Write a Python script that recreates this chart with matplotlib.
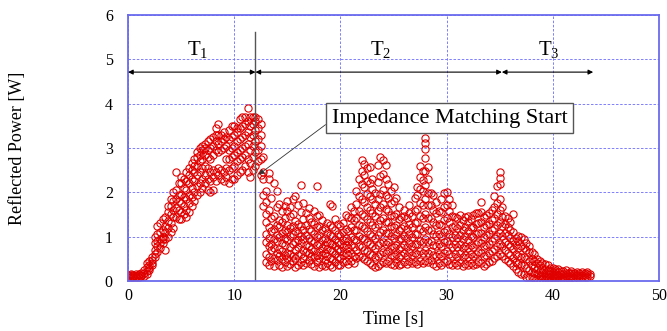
import matplotlib
matplotlib.use("Agg")
import matplotlib.pyplot as plt
import numpy as np

plt.rcParams["font.family"] = ["Liberation Serif", "DejaVu Serif"]
plt.rcParams["mathtext.fontset"] = "custom"
plt.rcParams["mathtext.rm"] = "Liberation Serif"

# reflected power readings, one group every 0.25 s starting at t = 0 s
t_step = 0.25
power_bins = [
    # 0 s
    [0.10, 0.12, 0.14], [0.10, 0.13, 0.15], [0.09, 0.12, 0.14], [0.10, 0.12, 0.15],
    # 1 s
    [0.10, 0.13, 0.15], [0.11, 0.14, 0.17], [0.12, 0.18, 0.25], [0.15, 0.22, 0.32, 0.40],
    # 2 s
    [0.25, 0.35, 0.45, 0.30], [0.35, 0.48, 0.40, 0.55], [0.55, 0.70, 0.85, 1.00, 0.62], [0.65, 0.90, 1.05, 1.25, 0.80],
    # 3 s
    [0.75, 0.95, 1.10, 1.30, 0.85], [0.85, 1.00, 1.15, 1.40, 0.95], [0.70, 0.95, 1.10, 1.25, 1.45], [1.00, 1.20, 1.35, 1.55, 1.70],
    # 4 s
    [1.10, 1.30, 1.50, 1.70, 1.85], [1.20, 1.45, 1.60, 1.80, 2.00], [1.45, 1.65, 1.85, 2.05, 2.45], [1.40, 1.60, 1.80, 1.95, 2.20],
    # 5 s
    [1.40, 1.55, 1.75, 1.95, 2.20, 2.35], [1.50, 1.70, 1.90, 2.10, 2.30], [1.45, 1.60, 1.85, 2.05, 2.25, 2.45], [1.55, 1.75, 1.95, 2.20, 2.40, 2.55],
    # 6 s
    [1.70, 1.90, 2.10, 2.30, 2.50, 2.65], [1.80, 2.00, 2.25, 2.45, 2.60, 2.75], [1.95, 2.15, 2.40, 2.60, 2.80, 2.90], [2.00, 2.20, 2.45, 2.70, 2.85, 3.00],
    # 7 s
    [2.10, 2.30, 2.55, 2.75, 2.95, 3.05], [2.20, 2.40, 2.60, 2.85, 3.00, 3.10], [2.05, 2.30, 2.55, 2.80, 2.95, 3.15], [2.00, 2.25, 2.45, 2.75, 3.00, 3.20],
    # 8 s
    [2.05, 2.35, 2.50, 2.85, 3.05, 3.25], [2.25, 2.45, 2.95, 3.15, 3.30, 3.45], [2.40, 2.55, 2.90, 3.10, 3.30, 3.55], [2.30, 2.50, 2.95, 3.15, 3.30],
    # 9 s
    [2.25, 2.45, 3.00, 3.20, 3.35], [2.35, 2.55, 2.75, 3.05, 3.25], [2.20, 2.50, 2.75, 2.95, 3.20, 3.40], [2.30, 2.55, 2.80, 3.00, 3.25, 3.50],
    # 10 s
    [2.30, 2.60, 2.85, 3.05, 3.30, 3.50], [2.40, 2.70, 2.90, 3.15, 3.35, 3.45], [2.45, 2.75, 2.95, 3.20, 3.45, 3.65], [2.50, 2.80, 3.00, 3.25, 3.50, 3.70],
    # 11 s
    [2.60, 2.85, 3.05, 3.30, 3.55, 3.70], [2.45, 2.75, 3.10, 3.35, 3.60, 3.90], [2.35, 2.65, 2.95, 3.25, 3.50, 3.70], [2.50, 2.80, 3.05, 3.30, 3.55, 3.70],
    # 12 s
    [2.60, 2.90, 3.15, 3.40, 3.60, 3.70], [2.70, 2.95, 3.20, 3.45, 3.65], [2.40, 2.75, 3.05, 3.30, 3.55], [1.70, 1.95, 2.30, 2.45, 2.80],
    # 13 s
    [0.42, 0.61, 0.88, 1.07, 1.33, 1.52, 1.78, 2.02], [0.37, 0.55, 0.79, 0.97, 1.22, 1.61, 2.31, 2.44],
    [0.45, 0.69, 0.83, 1.12, 1.41, 1.87], [0.34, 0.52, 0.74, 0.95, 1.18, 1.46, 2.21],
    # 14 s
    [0.48, 0.63, 0.91, 1.03, 1.27, 1.66, 2.03], [0.36, 0.57, 0.72, 0.99, 1.21, 1.38, 1.74],
    [0.31, 0.49, 0.68, 0.86, 1.09, 1.32, 1.57], [0.44, 0.58, 0.81, 0.98, 1.16, 1.43, 1.69],
    # 15 s
    [0.33, 0.52, 0.64, 0.93, 1.11, 1.26, 1.58, 1.81], [0.39, 0.61, 0.77, 1.02, 1.19, 1.47, 1.66],
    [0.46, 0.57, 0.84, 1.06, 1.24, 1.52, 1.86], [0.32, 0.53, 0.71, 0.89, 1.13, 1.35, 1.92],
    # 16 s
    [0.35, 0.59, 0.76, 0.92, 1.08, 1.29, 1.71], [0.43, 0.62, 0.85, 1.01, 1.23, 1.56, 2.16],
    [0.37, 0.51, 0.69, 0.94, 1.14, 1.39, 1.77], [0.41, 0.66, 0.82, 1.04, 1.27, 1.54],
    # 17 s
    [0.47, 0.63, 0.79, 0.97, 1.18, 1.43, 1.64], [0.38, 0.56, 0.73, 0.91, 1.12, 1.33],
    [0.34, 0.54, 0.68, 0.87, 1.07, 1.28, 1.57], [0.42, 0.59, 0.81, 0.99, 1.21, 1.46, 2.14],
    # 18 s
    [0.31, 0.52, 0.66, 0.84, 1.03, 1.24, 1.49], [0.36, 0.58, 0.74, 0.93, 1.14, 1.38],
    [0.33, 0.48, 0.64, 0.82, 0.98, 1.19], [0.41, 0.57, 0.73, 0.89, 1.08, 1.31],
    # 19 s
    [0.35, 0.53, 0.69, 0.86, 1.04, 1.27, 1.74], [0.32, 0.49, 0.67, 0.83, 1.01, 1.22, 1.69],
    [0.43, 0.61, 0.78, 0.95, 1.16, 1.39], [0.37, 0.55, 0.72, 0.88, 1.07, 1.29],
    # 20 s
    [0.36, 0.51, 0.68, 0.84, 1.02, 1.24], [0.42, 0.59, 0.76, 0.92, 1.11, 1.31],
    [0.45, 0.63, 0.81, 0.97, 1.17, 1.48], [0.39, 0.58, 0.74, 0.91, 1.13, 1.44],
    # 21 s
    [0.46, 0.64, 0.82, 0.99, 1.22, 1.43, 1.66], [0.41, 0.57, 0.77, 0.94, 1.15, 1.37, 1.58],
    [0.52, 0.71, 0.93, 1.16, 1.41, 1.73, 2.04], [0.56, 0.79, 1.02, 1.27, 1.58, 1.91, 2.29],
    # 22 s
    [0.54, 0.76, 0.98, 1.23, 1.52, 1.84, 2.18, 2.47, 2.72], [0.49, 0.71, 0.94, 1.19, 1.47, 1.79, 2.11, 2.39, 2.63],
    [0.46, 0.67, 0.89, 1.13, 1.39, 1.68, 1.97, 2.26, 2.54], [0.41, 0.62, 0.83, 1.07, 1.32, 1.61, 1.92, 2.21, 2.58],
    # 23 s
    [0.36, 0.58, 0.79, 1.02, 1.26, 1.53, 1.84, 2.07, 2.31], [0.31, 0.54, 0.74, 0.97, 1.21, 1.47, 1.73, 1.98],
    [0.34, 0.57, 0.81, 1.04, 1.29, 1.57, 1.86, 2.23, 2.61], [0.39, 0.62, 0.86, 1.11, 1.37, 1.66, 1.97, 2.36, 2.79],
    # 24 s
    [0.44, 0.66, 0.89, 1.14, 1.42, 1.73, 2.06, 2.41, 2.73], [0.41, 0.63, 0.84, 1.08, 1.34, 1.62, 1.93, 2.29, 2.62],
    [0.46, 0.68, 0.87, 1.09, 1.33, 1.58, 1.87, 2.19], [0.39, 0.59, 0.79, 1.01, 1.24, 1.49, 1.76, 2.04],
    # 25 s
    [0.36, 0.56, 0.76, 0.98, 1.21, 1.46, 1.81, 2.11], [0.42, 0.61, 0.82, 1.03, 1.26, 1.52, 1.88],
    [0.35, 0.54, 0.73, 0.94, 1.16, 1.39, 1.68], [0.38, 0.58, 0.77, 0.97, 1.19, 1.44],
    # 26 s
    [0.44, 0.63, 0.82, 1.02, 1.23, 1.47, 1.61], [0.39, 0.57, 0.76, 0.96, 1.17, 1.42],
    [0.46, 0.66, 0.85, 1.06, 1.28, 1.53, 1.71], [0.41, 0.59, 0.79, 0.99, 1.21, 1.46],
    # 27 s
    [0.44, 0.64, 0.84, 1.06, 1.31, 1.58, 1.88], [0.39, 0.61, 0.83, 1.07, 1.34, 1.63, 1.94, 2.12],
    [0.45, 0.67, 0.91, 1.17, 1.46, 1.77, 2.08, 2.34, 2.59], [0.41, 0.63, 0.87, 1.13, 1.41, 1.72, 2.03, 2.27, 2.49],
    # 28 s
    [0.46, 0.69, 0.94, 1.21, 1.52, 1.84, 2.17, 2.48, 2.78, 2.98, 3.12, 3.22], [0.42, 0.64, 0.88, 1.14, 1.42, 1.71, 1.99, 2.31, 2.56],
    [0.47, 0.68, 0.91, 1.16, 1.43, 1.72, 1.98], [0.38, 0.59, 0.82, 1.06, 1.32, 1.61, 1.93],
    # 29 s
    [0.34, 0.56, 0.78, 1.01, 1.26, 1.53, 1.79], [0.41, 0.62, 0.83, 1.05, 1.29, 1.57],
    [0.36, 0.57, 0.79, 1.02, 1.27, 1.56, 1.84], [0.42, 0.64, 0.87, 1.11, 1.38, 1.67, 1.98],
    # 30 s
    [0.45, 0.67, 0.91, 1.16, 1.43, 1.72, 2.01], [0.39, 0.61, 0.84, 1.07, 1.32, 1.58, 1.86],
    [0.35, 0.56, 0.77, 0.99, 1.22, 1.46, 1.71], [0.41, 0.62, 0.83, 1.04, 1.24, 1.44],
    # 31 s
    [0.36, 0.55, 0.76, 0.97, 1.19, 1.41], [0.42, 0.63, 0.84, 1.04, 1.26, 1.49],
    [0.34, 0.54, 0.74, 0.94, 1.14, 1.37], [0.39, 0.59, 0.79, 1.01, 1.22, 1.44],
    # 32 s
    [0.36, 0.55, 0.74, 0.93, 1.13, 1.33, 1.46], [0.41, 0.61, 0.81, 1.01, 1.21, 1.39],
    [0.35, 0.56, 0.77, 0.99, 1.22, 1.48], [0.39, 0.61, 0.83, 1.06, 1.29, 1.54],
    # 33 s
    [0.44, 0.66, 0.88, 1.09, 1.31, 1.53], [0.41, 0.63, 0.86, 1.09, 1.33, 1.56, 1.79],
    [0.34, 0.56, 0.78, 0.99, 1.21, 1.44], [0.38, 0.59, 0.81, 1.03, 1.26, 1.49],
    # 34 s
    [0.42, 0.63, 0.84, 1.06, 1.29, 1.54], [0.46, 0.68, 0.91, 1.14, 1.37, 1.59],
    [0.51, 0.73, 0.96, 1.19, 1.43, 1.68, 1.91], [0.56, 0.79, 1.02, 1.26, 1.51, 1.77, 2.14],
    # 35 s
    [0.61, 0.84, 1.08, 1.33, 1.59, 1.86, 2.18, 2.33, 2.45], [0.57, 0.79, 1.01, 1.23, 1.44, 1.66],
    [0.49, 0.69, 0.89, 1.09, 1.28, 1.46], [0.46, 0.64, 0.83, 1.03, 1.22, 1.41],
    # 36 s
    [0.41, 0.59, 0.78, 0.97, 1.16, 1.34], [0.34, 0.53, 0.72, 0.91, 1.11, 1.51],
    [0.26, 0.44, 0.62, 0.81, 0.97], [0.21, 0.38, 0.56, 0.74, 0.91, 1.01],
    # 37 s
    [0.15, 0.35, 0.55, 0.80, 1.00], [0.15, 0.35, 0.55, 0.75, 0.95], [0.10, 0.30, 0.50, 0.70, 0.85], [0.10, 0.25, 0.45, 0.65, 0.80],
    # 38 s
    [0.08, 0.20, 0.35, 0.50, 0.65], [0.07, 0.18, 0.30, 0.45, 0.60], [0.05, 0.15, 0.28, 0.40, 0.50], [0.05, 0.12, 0.22, 0.35, 0.45],
    # 39 s
    [0.05, 0.12, 0.20, 0.30, 0.40], [0.04, 0.10, 0.18, 0.28, 0.38], [0.04, 0.10, 0.16, 0.25, 0.35], [0.03, 0.09, 0.15, 0.22, 0.30],
    # 40 s
    [0.03, 0.08, 0.14, 0.20, 0.30], [0.04, 0.09, 0.15, 0.22, 0.28], [0.03, 0.08, 0.14, 0.20, 0.27], [0.04, 0.10, 0.16, 0.22],
    # 41 s
    [0.05, 0.10, 0.16, 0.22], [0.06, 0.11, 0.17, 0.24], [0.06, 0.12, 0.18], [0.07, 0.12, 0.18, 0.23],
    # 42 s
    [0.07, 0.13, 0.19], [0.08, 0.13, 0.20], [0.08, 0.14, 0.19], [0.09, 0.14, 0.20],
    # 43 s
    [0.09, 0.14, 0.19], [0.10, 0.15, 0.20], [0.11, 0.16],
]

# phase boundaries [s]
t_match = 12.0
t_phase3 = 35.2
t_end = 43.8

x = []
y = []
for i, vals in enumerate(power_bins):
    for v in vals:
        x.append(i * t_step)
        y.append(v)

fig = plt.figure(figsize=(6.67, 3.31), dpi=100)
ax = fig.add_axes([0.192, 0.151, 0.796, 0.804])

ax.plot(x, y, "o", mfc="none", mec="#e00000", ms=5.2, mew=0.8)

ax.set_xlim(0, 50)
ax.set_ylim(0, 6)
ax.set_xticks([0, 10, 20, 30, 40, 50])
ax.set_yticks([0, 1, 2, 3, 4, 5, 6])
ax.grid(True, color="#6a6aff", linestyle=(0, (3, 2)), linewidth=0.6)
for s in ax.spines.values():
    s.set_color("#6a6aee")
    s.set_linewidth(1.3)
ax.tick_params(axis="both", length=0, labelsize=11.5)
ax.tick_params(axis="y", pad=11)
ax.tick_params(axis="x", pad=5)
ax.set_xlabel("Time [s]", fontsize=13)
ax.set_ylabel("Reflected Power [W]", fontsize=13)
ax.xaxis.set_label_coords(0.5, -0.113)
ax.yaxis.set_label_coords(-0.192, 0.5)

# matching start marker
ax.plot([t_match, t_match], [0, 5.62], color="#555555", lw=1)

# phase arrows
arr = dict(arrowstyle="<|-|>", color="black", lw=0.8, mutation_scale=7, shrinkA=0, shrinkB=0)
ax.annotate("", xy=(t_match, 4.71), xytext=(0, 4.71), arrowprops=arr)
ax.annotate("", xy=(t_phase3, 4.71), xytext=(t_match, 4.71), arrowprops=arr)
ax.annotate("", xy=(t_end, 4.71), xytext=(t_phase3, 4.71), arrowprops=arr)
ax.text(6.6, 5.21, r"$\mathrm{T}_{1}$", fontsize=15, ha="center", va="center")
ax.text(23.8, 5.21, r"$\mathrm{T}_{2}$", fontsize=15, ha="center", va="center")
ax.text(39.6, 5.21, r"$\mathrm{T}_{3}$", fontsize=15, ha="center", va="center")

ax.annotate("Impedance Matching Start", xy=(12.3, 2.4), xytext=(30.27, 3.67),
            fontsize=16, ha="center", va="center",
            bbox=dict(boxstyle="square,pad=0.25", fc="white", ec="#555555", lw=1),
            arrowprops=dict(arrowstyle="-|>", color="#333333", lw=0.6, mutation_scale=8,
                            relpos=(0, 0.4), shrinkA=0, shrinkB=0))

fig.savefig("out.png", dpi=100)
